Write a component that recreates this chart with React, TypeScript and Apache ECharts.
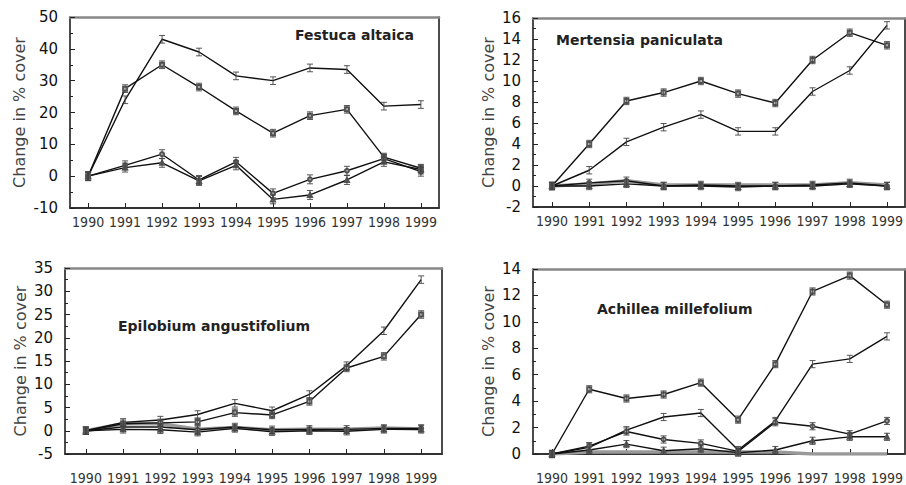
import React, { useEffect, useRef } from "react";
import * as echarts from "echarts";

// ---- data ----
const years = [1990, 1991, 1992, 1993, 1994, 1995, 1996, 1997, 1998, 1999];

// Festuca altaica
const festucaA = [0, 24, 43, 39, 31.5, 30, 34, 33.5, 22, 22.5];
const festucaB = [0, 27.5, 35, 28, 20.5, 13.5, 19, 21, 6, 2.5];
const festucaC = [0, 3.4, 6.9, -1.2, 4.5, -5.4, -1.0, 1.7, 5.5, 1.4];
const festucaD = [0, 2.7, 4.2, -1.5, 3.4, -7.3, -5.9, -1.2, 4.5, 2.1];
const festucaErr = [1.2, 1.2, 1.4, 1.4];

// Mertensia paniculata
const mertensiaA = [0, 1.5, 4.2, 5.6, 6.8, 5.2, 5.2, 9, 11, 15.3];
const mertensiaB = [0, 4, 8.1, 8.9, 10, 8.8, 7.9, 12, 14.6, 13.4];
const mertensiaC = [0, 0.3, 0.5, 0, 0.1, 0, 0, 0.1, 0.3, 0];
const mertensiaD = [0, 0, 0.2, 0, 0, -0.1, 0, 0, 0.2, 0];
const mertensiaGrey = [0, 0.2, 0.5, 0.1, 0.1, 0.1, 0.1, 0.1, 0.3, 0.1];
const mertensiaErr = [0.35, 0.35, 0.35, 0.35];

// Epilobium angustifolium
const epilobiumA = [0, 1.8, 2.3, 3.5, 5.9, 4.3, 7.8, 14, 21.5, 32.5];
const epilobiumB = [0, 1.5, 1.7, 1.9, 3.9, 3.4, 6.3, 13.5, 16, 25];
const epilobiumC = [0, 0.8, 0.8, 0.2, 0.8, 0.2, 0.3, 0.3, 0.5, 0.5];
const epilobiumD = [0, 0.3, 0.2, -0.3, 0.5, -0.2, 0, -0.1, 0.3, 0.3];
const epilobiumGrey = [0, 1.5, 1.5, 0.3, 0.7, 0.2, 0.3, 0.3, 0.6, 0.4];
const epilobiumErr = [0.8, 0.8, 0.8, 0.8];

// Achillea millefolium
const achilleaA = [0, 0.5, 1.8, 2.8, 3.1, 0.3, 2.5, 6.8, 7.2, 8.9];
const achilleaB = [0, 4.9, 4.2, 4.5, 5.4, 2.6, 6.8, 12.3, 13.5, 11.3];
const achilleaC = [0, 0.6, 1.7, 1.1, 0.8, 0.2, 2.4, 2.1, 1.5, 2.5];
const achilleaD = [0, 0.3, 0.75, 0.25, 0.4, 0.1, 0.3, 1.0, 1.3, 1.3];
const achilleaGrey = [0, 0.15, 0.15, 0.15, 0.15, 0.15, 0.15, 0, 0, 0];
const achilleaErr = [0.27, 0.27, 0.27, 0.27];

const yTitle = "Change in % cover";

type Panel = {
  title: string;
  series: number[][];
  grey: number[] | null;
  err: number[];
  yMin: number;
  yMax: number;
  yInterval: number;
};

const panels: Panel[] = [
  { title: "Festuca altaica", series: [festucaA, festucaB, festucaC, festucaD], grey: null, err: festucaErr, yMin: -10, yMax: 50, yInterval: 10 },
  { title: "Mertensia paniculata", series: [mertensiaA, mertensiaB, mertensiaC, mertensiaD], grey: mertensiaGrey, err: mertensiaErr, yMin: -2, yMax: 16, yInterval: 2 },
  { title: "Epilobium angustifolium", series: [epilobiumA, epilobiumB, epilobiumC, epilobiumD], grey: epilobiumGrey, err: epilobiumErr, yMin: -5, yMax: 35, yInterval: 5 },
  { title: "Achillea millefolium", series: [achilleaA, achilleaB, achilleaC, achilleaD], grey: achilleaGrey, err: achilleaErr, yMin: 0, yMax: 14, yInterval: 2 },
];

// ---- layout (pixels) ----
const layout = [
  { left: 70, top: 17, width: 369, height: 191, xMin: 1989.51, xMax: 1999.49, labelMargin: 7, nameGap: 43, tx: 295, ty: 28 },
  { left: 533, top: 18, width: 375, height: 189, xMin: 1989.49, xMax: 1999.48, labelMargin: 7, nameGap: 37, tx: 556, ty: 33 },
  { left: 65, top: 268, width: 377, height: 186, xMin: 1989.44, xMax: 1999.56, labelMargin: 17, nameGap: 37, tx: 118, ty: 319 },
  { left: 533, top: 269, width: 375, height: 186, xMin: 1989.49, xMax: 1999.48, labelMargin: 17, nameGap: 37, tx: 597, ty: 302 },
];

const symbols = ["none", "emptyRect", "emptyCircle", "emptyTriangle"];

function buildOption(): any {
  const grid: any[] = [];
  const xAxis: any[] = [];
  const yAxis: any[] = [];
  const series: any[] = [];
  const graphic: any[] = [];

  panels.forEach((p, i) => {
    const L = layout[i];
    grid.push({ left: L.left, top: L.top, width: L.width, height: L.height, containLabel: false });
    xAxis.push({
      type: "value",
      gridIndex: i,
      min: L.xMin,
      max: L.xMax,
      position: "bottom",
      splitLine: { show: false },
      axisLine: { onZero: false, lineStyle: { color: "#333", width: 2 } },
      axisTick: { inside: true, length: 5, customValues: years, lineStyle: { color: "#222", width: 1 } },
      axisLabel: {
        customValues: years,
        formatter: (v: number) => String(Math.round(v)),
        margin: L.labelMargin,
        fontFamily: "'DejaVu Sans Condensed', 'Liberation Sans Narrow', sans-serif",
        fontSize: 14,
        color: "#333",
      },
    });
    xAxis.push({
      type: "value",
      gridIndex: i,
      min: L.xMin,
      max: L.xMax,
      position: "top",
      splitLine: { show: false },
      axisLine: { onZero: false, lineStyle: { color: "#888", width: 2.5 } },
      axisTick: { show: false },
      axisLabel: { show: false },
    });
    yAxis.push({
      type: "value",
      gridIndex: i,
      min: p.yMin,
      max: p.yMax,
      interval: p.yInterval,
      position: "left",
      splitLine: { show: false },
      axisLine: { show: true, onZero: false, lineStyle: { color: "#111", width: 1.5 } },
      axisTick: { show: true, inside: true, length: 5, lineStyle: { color: "#222" } },
      minorTick: { show: true, splitNumber: 2, length: 3, lineStyle: { color: "#222" } },
      axisLabel: { margin: 12, fontFamily: "'DejaVu Sans', sans-serif", fontSize: 15, color: "#111" },
      name: yTitle,
      nameLocation: "middle",
      nameGap: L.nameGap,
      nameTextStyle: { fontFamily: "'DejaVu Sans', sans-serif", fontSize: 16, color: "#444" },
    });
    yAxis.push({
      type: "value",
      gridIndex: i,
      min: p.yMin,
      max: p.yMax,
      position: "right",
      splitLine: { show: false },
      axisLine: { show: true, onZero: false, lineStyle: { color: "#111", width: 1.5 } },
      axisTick: { show: false },
      axisLabel: { show: false },
    });

    const xi = i * 2;
    const yi = i * 2;

    if (p.grey) {
      series.push({
        type: "line",
        xAxisIndex: xi,
        yAxisIndex: yi,
        data: years.map((y, k) => [y, p.grey![k]]),
        symbol: "none",
        lineStyle: { color: "#999", width: 3.5 },
        z: 1,
      });
    }

    p.series.forEach((s, si) => {
      series.push({
        type: "line",
        xAxisIndex: xi,
        yAxisIndex: yi,
        data: years.map((y, k) => [y, s[k]]),
        symbol: symbols[si],
        symbolSize: 4,
        itemStyle: { color: "#555", borderWidth: 0.8 },
        lineStyle: { color: "#111", width: 1.4 },
        z: 3,
      });
      series.push({
        type: "custom",
        xAxisIndex: xi,
        yAxisIndex: yi,
        data: years.map((y, k) => [y, s[k], p.err[si]]),
        encode: { x: 0, y: 1 },
        z: 4,
        renderItem: (_params: any, api: any) => {
          const x = api.value(0);
          const v = api.value(1);
          const e = api.value(2);
          const t = api.coord([x, v + e]);
          const b = api.coord([x, v - e]);
          const hw = 3;
          const st = { stroke: "#444", lineWidth: 0.9 };
          return {
            type: "group",
            children: [
              { type: "line", shape: { x1: t[0], y1: t[1], x2: b[0], y2: b[1] }, style: st },
              { type: "line", shape: { x1: t[0] - hw, y1: t[1], x2: t[0] + hw, y2: t[1] }, style: st },
              { type: "line", shape: { x1: b[0] - hw, y1: b[1], x2: b[0] + hw, y2: b[1] }, style: st },
            ],
          };
        },
      });
    });

    graphic.push({
      type: "text",
      x: L.tx,
      y: L.ty,
      style: {
        text: p.title,
        fontFamily: "'DejaVu Sans', sans-serif",
        fontSize: 14,
        fontWeight: "bold",
        fill: "#222",
        align: "left",
        verticalAlign: "top",
      },
    });
  });

  return {
    animation: false,
    backgroundColor: "#fff",
    grid,
    xAxis,
    yAxis,
    series,
    graphic,
  };
}

export default function App() {
  const ref = useRef<HTMLDivElement>(null);
  useEffect(() => {
    if (!ref.current) return;
    const chart = echarts.init(ref.current, undefined, { renderer: "svg" });
    chart.setOption(buildOption());
    return () => chart.dispose();
  }, []);
  return (
    <div
      ref={ref}
      style={{ position: "fixed", left: 0, top: 0, width: 906, height: 485, background: "#fff" }}
    />
  );
}
